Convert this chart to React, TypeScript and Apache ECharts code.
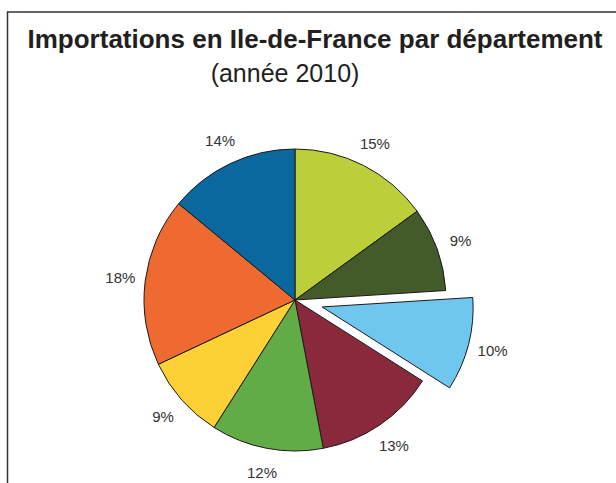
import React, { useEffect, useRef } from "react";
import * as echarts from "echarts";

const labels = ["15%", "9%", "10%", "13%", "12%", "9%", "18%", "14%"];
const values = [15, 9, 10, 13, 12, 9, 18, 14];
const colors = ["#bccf3b", "#435b2b", "#6fc6ee", "#8a283c", "#62ac48", "#fdd035", "#ef6a31", "#0a689e"];
const exploded = [false, false, true, false, false, false, false, false];
const titleText = "Importations en Ile-de-France par département";
const subtitleText = "(année 2010)";

export default function App() {
  const ref = useRef<HTMLDivElement>(null);
  useEffect(() => {
    document.body.style.margin = "0";
    const chart = echarts.init(ref.current!, null, { renderer: "svg" });
    const font = "'Liberation Sans', Arial, Helvetica, sans-serif";
    const pieData = values.map((v, i) => ({
      value: v,
      name: labels[i] + "-" + i,
      selected: exploded[i],
      itemStyle: { color: colors[i] },
    }));
    const labelData = values.map((v, i) => ({
      value: v,
      name: labels[i] + "-" + i,
      selected: exploded[i],
      label: { formatter: labels[i] },
    }));
    chart.setOption({
      animation: false,
      backgroundColor: "#ffffff",
      graphic: [
        {
          type: "polyline",
          shape: { points: [[616, 12], [7.5, 12], [7.5, 483]] },
          style: { stroke: "#333333", lineWidth: 1.5, fill: "none" },
          silent: true,
        },
        {
          type: "text",
          x: 315,
          y: 39,
          style: {
            text: titleText,
            fontFamily: font,
            fontSize: 26,
            fontWeight: "bold",
            fill: "#231f20",
            align: "center",
            verticalAlign: "middle",
          },
        },
        {
          type: "text",
          x: 285,
          y: 73,
          style: {
            text: subtitleText,
            fontFamily: font,
            fontSize: 25,
            fill: "#231f20",
            align: "center",
            verticalAlign: "middle",
          },
        },
      ],
      series: [
        {
          type: "pie",
          center: [295, 300],
          radius: [0, 151],
          startAngle: 90,
          clockwise: true,
          selectedMode: "single",
          selectedOffset: 28,
          silent: true,
          label: { show: false },
          labelLine: { show: false },
          itemStyle: { borderColor: "#1a1a1a", borderWidth: 1 },
          emphasis: { disabled: true },
          data: pieData,
        },
        {
          type: "pie",
          center: [295, 300],
          radius: [153, 193],
          startAngle: 90,
          clockwise: true,
          selectedMode: "single",
          selectedOffset: 28,
          silent: true,
          itemStyle: { color: "rgba(0,0,0,0)", borderWidth: 0 },
          label: {
            show: true,
            position: "inside",
            fontFamily: font,
            fontSize: 15,
            color: "#333333",
          },
          labelLine: { show: false },
          emphasis: { disabled: true },
          data: labelData,
        },
      ],
    });
    return () => chart.dispose();
  }, []);
  return <div ref={ref} style={{ width: 616, height: 483 }} />;
}
